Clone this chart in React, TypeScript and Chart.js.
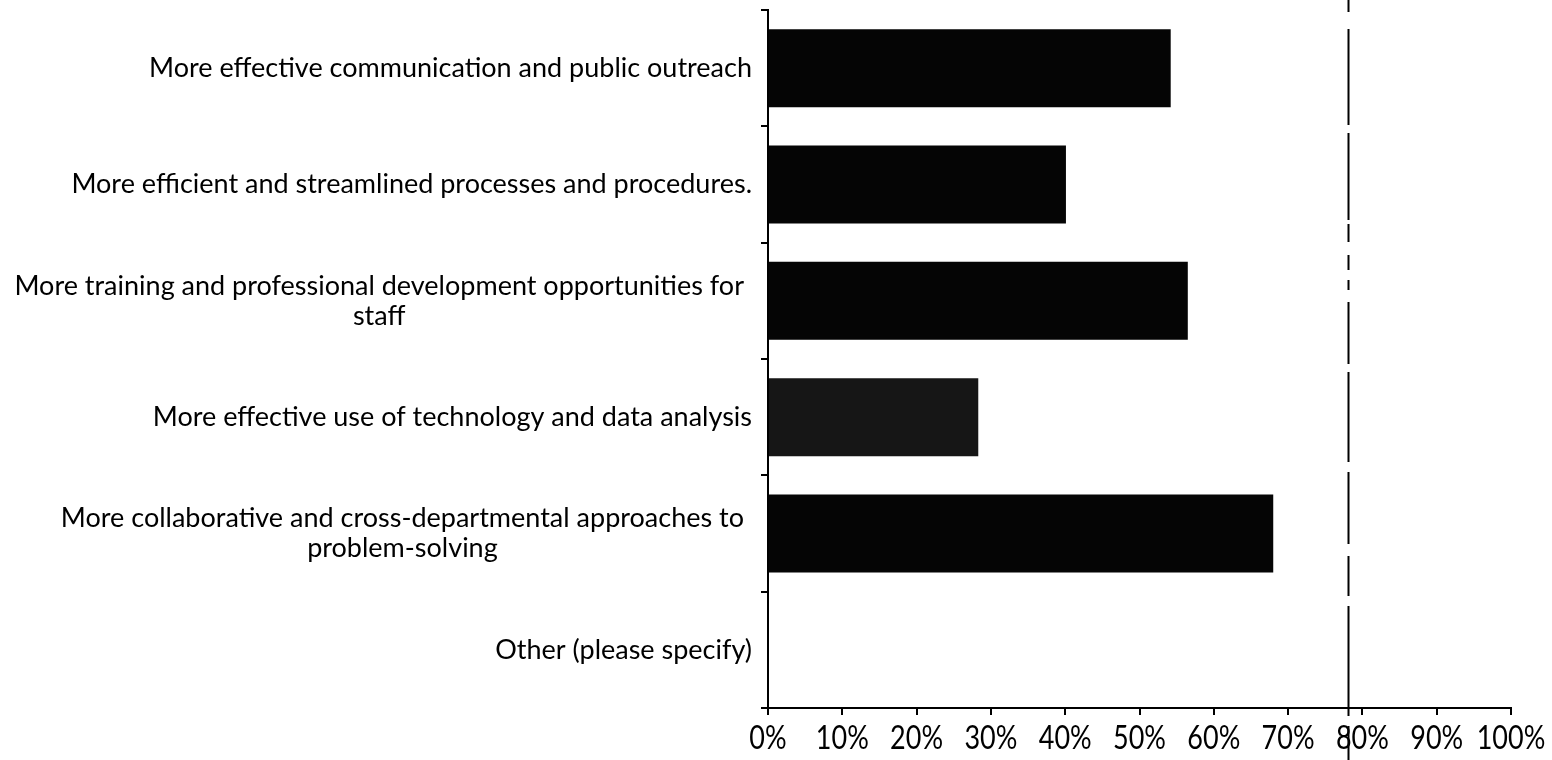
import React, { useEffect, useRef } from "react";
import { Chart, registerables } from "chart.js";

Chart.register(...registerables);

const categories: (string | string[])[] = [
  "More effective communication and public outreach",
  "More efficient and streamlined processes and procedures.",
  ["More training and professional development opportunities for", "staff"],
  "More effective use of technology and data analysis",
  ["More collaborative and cross-departmental approaches to", "problem-solving"],
  "Other (please specify)",
];

const responseShare: number[] = [54.2, 40.1, 56.5, 28.3, 68.0, 0];
const barColors: string[] = ["#050505", "#050505", "#050505", "#161616", "#050505", "#050505"];
const tickValues: number[] = [0, 10, 20, 30, 40, 50, 60, 70, 80, 90, 100];
const tickLabels: string[] = ["0%", "10%", "20%", "30%", "40%", "50%", "60%", "70%", "80%", "90%", "100%"];
const referenceLineValue = 78.1;

const FONT = "Lato, 'Noto Sans', sans-serif";

export default function App() {
  const canvasRef = useRef<HTMLCanvasElement | null>(null);

  useEffect(() => {
    document.body.style.margin = "0";
    const canvas = canvasRef.current;
    if (!canvas) return;

    const labelPlugin = {
      id: "catLabels",
      afterDraw(chart: any) {
        const ctx = chart.ctx;
        const y = chart.scales.y;
        const x = chart.scales.x;
        ctx.save();
        ctx.fillStyle = "#000";
        ctx.font = `27px ${FONT}`;
        ctx.textBaseline = "middle";
        ctx.textAlign = "center";
        const lineH = 30;
        categories.forEach((lab, i) => {
          const lines = Array.isArray(lab) ? lab : [lab];
          const maxW = Math.max(...lines.map((l) => ctx.measureText(l).width));
          const right = lines.length > 1 ? 744 : 752;
          const cx = right - maxW / 2;
          const cy = y.getPixelForValue(i);
          const start = cy - ((lines.length - 1) * lineH) / 2;
          lines.forEach((l, k) => ctx.fillText(l, cx, start + k * lineH));
        });
        // x tick labels
        ctx.font = `27px ${FONT}`;
        ctx.textBaseline = "middle";
        ctx.textAlign = "center";
        tickValues.forEach((v, i) => {
          const px = x.getPixelForValue(v);
          ctx.save();
          ctx.translate(px, 739);
          ctx.scale(1, 1.2);
          ctx.fillText(tickLabels[i], 0, 0);
          ctx.restore();
        });
        ctx.restore();
      },
    };

    const refLinePlugin = {
      id: "refLine",
      afterDraw(chart: any) {
        const ctx = chart.ctx;
        const x = Math.round(chart.scales.x.getPixelForValue(referenceLineValue)) + 0.5;
        ctx.save();
        ctx.strokeStyle = "#000";
        ctx.lineWidth = 2;
        ctx.setLineDash([12, 17, 96, 8, 87, 4, 18, 13, 15, 10, 10, 12, 62, 8, 90, 10, 72, 12, 40, 10, 110, 10, 60, 8]);
        ctx.beginPath();
        ctx.moveTo(x, 0);
        ctx.lineTo(x, chart.height);
        ctx.stroke();
        ctx.restore();
      },
    };

    const chart = new Chart(canvas, {
      type: "bar",
      data: {
        labels: categories.map((c) => (Array.isArray(c) ? c.join(" ") : c)),
        datasets: [
          {
            data: responseShare,
            backgroundColor: barColors,
            borderWidth: 0,
            barPercentage: 0.67,
            categoryPercentage: 1,
          },
        ],
      },
      options: {
        indexAxis: "y",
        animation: false,
        responsive: false,
        maintainAspectRatio: false,
        layout: { padding: { top: 10, right: 41, left: 0, bottom: 0 } },
        plugins: { legend: { display: false }, tooltip: { enabled: false } },
        scales: {
          y: {
            type: "category",
            offset: true,
            ticks: { display: false },
            grid: {
              offset: true,
              drawOnChartArea: false,
              drawTicks: true,
              tickLength: 7,
              color: "#000",
              lineWidth: 2,
            },
            border: { display: true, color: "#000", width: 2 },
            afterFit(scale: any) {
              scale.width = 768;
            },
          },
          x: {
            type: "linear",
            min: 0,
            max: 100,
            afterBuildTicks(scale: any) {
              scale.ticks = tickValues.map((v) => ({ value: v }));
            },
            ticks: { display: false },
            grid: {
              drawOnChartArea: false,
              drawTicks: true,
              tickLength: 7,
              color: "#000",
              lineWidth: 2,
            },
            border: { display: true, color: "#000", width: 2 },
            afterFit(scale: any) {
              scale.height = 52;
            },
          },
        },
      },
      plugins: [labelPlugin, refLinePlugin],
    });

    return () => chart.destroy();
  }, []);

  return (
    <div style={{ position: "fixed", left: 0, top: 0, width: 1552, height: 760, background: "#fff" }}>
      <canvas ref={canvasRef} width={1552} height={760} style={{ width: 1552, height: 760 }} />
    </div>
  );
}
